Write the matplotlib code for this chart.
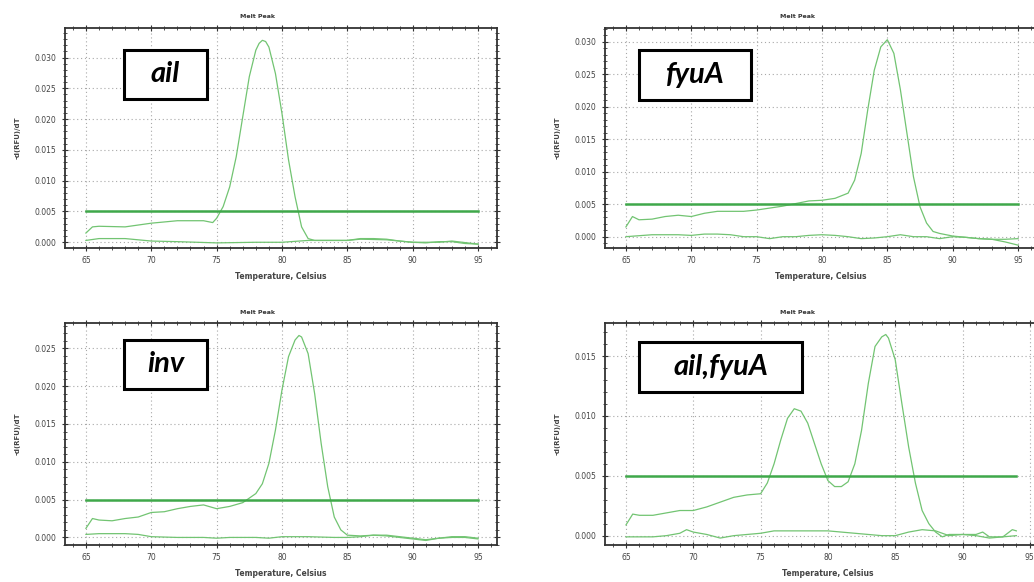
import matplotlib
matplotlib.use('Agg')
import matplotlib.pyplot as plt
from matplotlib.patches import Rectangle
from matplotlib.ticker import MultipleLocator

W, H = 1034, 582

# melt peak data
ail_t = [65, 65.5, 66, 68, 70, 72, 74, 74.7, 75, 75.5, 76, 76.5, 77, 77.5, 78, 78.25, 78.5, 78.75, 79, 79.5,
         80, 80.5, 81, 81.5, 82, 82.5, 84, 85, 86, 87, 88, 89, 90, 91, 92, 93, 94, 95]
ail_v = [0.0015, 0.0025, 0.0026, 0.0025, 0.0031, 0.0035, 0.0035, 0.0032, 0.0039, 0.0058, 0.0090, 0.0139, 0.0204,
         0.0269, 0.0312, 0.0323, 0.0328, 0.0326, 0.0317, 0.0274, 0.0209, 0.0134, 0.0074, 0.0025, 0.0006, 0.0003,
         0.0003, 0.0003, 0.0006, 0.0006, 0.0005, 0.0002, 0.0000, -0.0001, 0.0001, 0.0001, -0.0002, -0.0003]
ail_ntc_t = [65, 66, 68, 70, 72, 75, 78, 80, 82, 85, 86, 88, 90, 92, 93, 95]
ail_ntc_v = [0.0003, 0.0006, 0.0006, 0.0002, 0.0001, -0.0001, 0.0, 0.0, 0.0003, 0.0003, 0.0005, 0.0004, 0.0,
             0.0, 0.0002, -0.0003]

fyua_t = [65, 65.5, 66, 67, 68, 69, 70, 71, 72, 74, 75, 76, 77, 78, 79, 80, 81, 82, 82.5, 83, 83.5, 84, 84.5,
          85, 85.5, 86, 86.5, 87, 87.5, 88, 88.5, 89, 90, 91, 92, 93, 94, 95]
fyua_v = [0.0015, 0.0031, 0.0026, 0.0027, 0.0031, 0.0033, 0.0031, 0.0036, 0.0039, 0.0039, 0.0041, 0.0044,
          0.0047, 0.0051, 0.0055, 0.0056, 0.0059, 0.0067, 0.0087, 0.0128, 0.0195, 0.0256, 0.0292, 0.0303, 0.0282,
          0.0226, 0.0159, 0.0092, 0.0046, 0.0021, 0.0008, 0.0005, 0.0001, -0.0001, -0.0003, -0.0004, -0.0008,
          -0.0013]
fyua_ntc_t = [65, 67, 69, 70, 71, 72, 73, 74, 75, 76, 77, 78, 79, 80, 81, 82, 83, 84, 85, 86, 87, 88, 89, 90,
              91, 92, 93, 94, 95]
fyua_ntc_v = [0.0, 0.0003, 0.0003, 0.0002, 0.0004, 0.0004, 0.0003, 0.0, 0.0, -0.0003, 0.0, 0.0, 0.0002, 0.0003,
              0.0002, 0.0, -0.0003, -0.0002, 0.0, 0.0003, 0.0, 0.0, -0.0003, 0.0, -0.0001, -0.0003, -0.0004,
              -0.0004, -0.0003]

inv_t = [65, 65.5, 66, 67, 68, 69, 70, 71, 72, 73, 74, 75, 76, 77, 78, 78.5, 79, 79.5, 80, 80.5, 81, 81.3, 81.5,
         82, 82.5, 83, 83.5, 84, 84.5, 85, 86, 87, 88, 89, 90, 91, 92, 93, 94, 95]
inv_v = [0.0012, 0.0025, 0.0023, 0.0022, 0.0025, 0.0027, 0.0033, 0.0034, 0.0038, 0.0041, 0.0043, 0.0038, 0.0041,
         0.0046, 0.0058, 0.0071, 0.0098, 0.0142, 0.0195, 0.0239, 0.0261, 0.0267, 0.0265, 0.0243, 0.0190, 0.0124,
         0.0067, 0.0027, 0.0010, 0.0003, 0.0002, 0.0003, 0.0003, 0.0001, -0.0001, -0.0003, -0.0001, 0.0001,
         0.0001, -0.0001]
inv_ntc_t = [65, 66, 68, 69, 70, 72, 74, 75, 76, 78, 79, 80, 82, 84, 85, 86, 87, 88, 89, 90, 91, 92, 93, 94, 95]
inv_ntc_v = [0.0004, 0.0005, 0.0005, 0.0004, 0.0001, 0.0, 0.0, -0.0001, 0.0, 0.0, -0.0001, 0.0001, 0.0001, 0.0,
             0.0, 0.0001, 0.0003, 0.0002, 0.0, -0.0002, -0.0004, -0.0001, 0.0, 0.0, -0.0002]

mix_t = [65, 65.5, 66, 67, 68, 69, 70, 71, 72, 73, 74, 75, 75.5, 76, 76.5, 77, 77.5, 78, 78.5, 79, 79.5, 80, 80.5,
         81, 81.5, 82, 82.5, 83, 83.5, 84, 84.3, 84.5, 85, 85.5, 86, 86.5, 87, 87.5, 88, 88.5, 89, 90, 91, 91.5,
         92, 93, 94]
mix_v = [0.0009, 0.0018, 0.0017, 0.0017, 0.0019, 0.0021, 0.0021, 0.0024, 0.0028, 0.0032, 0.0034, 0.0035, 0.0044,
         0.0060, 0.0080, 0.0098, 0.0106, 0.0104, 0.0094, 0.0077, 0.0060, 0.0046, 0.0041, 0.0041, 0.0045, 0.0060,
         0.0088, 0.0127, 0.0158, 0.0166, 0.0168, 0.0165, 0.0147, 0.0110, 0.0074, 0.0044, 0.0021, 0.0010, 0.0003,
         -0.0001, 0.0001, 0.0001, 0.0001, 0.0003, -0.0001, -0.0001, 0.0]
mix_ntc_t = [65, 66, 67, 68, 69, 69.5, 70, 71, 72, 73, 74, 75, 76, 77, 78, 79, 80, 81, 82, 83, 84, 85, 86, 87, 88,
             89, 90, 91, 92, 93, 93.7, 94]
mix_ntc_v = [-0.0001, -0.0001, -0.0001, 0.0, 0.0002, 0.0005, 0.0003, 0.0001, -0.0002, 0.0, 0.0001, 0.0002, 0.0004,
             0.0004, 0.0004, 0.0004, 0.0004, 0.0003, 0.0002, 0.0001, 0.0, 0.0, 0.0003, 0.0005, 0.0004, 0.0, 0.0001,
             0.0, -0.0002, -0.0001, 0.0005, 0.0004]

threshold = 0.005
labels = ['ail', 'fyuA', 'inv', 'ail,fyuA']

# layout in pixels: axes (left, top, right, bottom), xlim, ylim, label box (x0, y0, x1, y1)
panels = [
    dict(t=ail_t, v=ail_v, nt=ail_ntc_t, nv=ail_ntc_v, thr=(65, 95), ax=(65, 28, 497, 248),
         xlim=(63.4, 96.45), ylim=(-0.00093, 0.0348), yt=0.005, box=(124, 50, 207, 99)),
    dict(t=fyua_t, v=fyua_v, nt=fyua_ntc_t, nv=fyua_ntc_v, thr=(65, 95), ax=(605, 28, 1037, 248),
         xlim=(63.4, 96.45), ylim=(-0.00174, 0.0321), yt=0.005, box=(639, 50, 751, 100)),
    dict(t=inv_t, v=inv_v, nt=inv_ntc_t, nv=inv_ntc_v, thr=(65, 95), ax=(65, 323, 497, 545),
         xlim=(63.4, 96.45), ylim=(-0.001, 0.02835), yt=0.005, box=(124, 340, 207, 389)),
    dict(t=mix_t, v=mix_v, nt=mix_ntc_t, nv=mix_ntc_v, thr=(65, 94), ax=(605, 323, 1050, 545),
         xlim=(63.44, 96.5), ylim=(-0.00078, 0.01776), yt=0.005, box=(639, 342, 802, 392)),
]

fig = plt.figure(figsize=(W / 100, H / 100), dpi=100)
fig.patch.set_facecolor('white')

curve_color = '#72c472'
thr_color = '#3fa84a'
text_color = '#444444'

for p, name in zip(panels, labels):
    l, t, r, b = p['ax']
    ax = fig.add_axes([l / W, 1 - b / H, (r - l) / W, (b - t) / H])
    ax.plot(p['t'], p['v'], color=curve_color, lw=0.9)
    ax.plot(p['nt'], p['nv'], color=curve_color, lw=0.9)
    ax.plot(list(p['thr']), [threshold, threshold], color=thr_color, lw=1.8)

    ax.set_xlim(*p['xlim'])
    ax.set_ylim(*p['ylim'])
    ax.xaxis.set_major_locator(MultipleLocator(5))
    ax.xaxis.set_minor_locator(MultipleLocator(1))
    ax.yaxis.set_major_locator(MultipleLocator(p['yt']))
    ax.yaxis.set_minor_locator(MultipleLocator(0.001))
    ax.yaxis.set_major_formatter(plt.FormatStrFormatter('%.3f'))
    ax.grid(True, which='major', linestyle=(0, (1, 2.5)), color='#a8a8a8', linewidth=0.8)
    ax.tick_params(which='both', direction='inout', top=True, right=True, color='#333333',
                   labelsize=5.5, labelcolor=text_color)
    ax.tick_params(which='major', length=4, width=0.8, pad=4)
    ax.tick_params(which='minor', length=2.5, width=0.6)
    for s in ax.spines.values():
        s.set_color('#333333')
        s.set_linewidth(1.3)

    ax.set_xlabel('Temperature, Celsius', fontsize=5.5, fontweight='bold', color=text_color, labelpad=5)
    ax.set_ylabel('-d(RFU)/dT', fontsize=5, fontweight='bold', color=text_color, labelpad=10)
    ax.text((257 + (540 if l > 500 else 0) - l) / (r - l), 1 + 11 / (b - t), 'Melt Peak',
            transform=ax.transAxes, ha='center', va='center', fontsize=4.5, fontweight='bold', color='#333333')

    bx0, by0, bx1, by1 = p['box']
    fig.patches.append(Rectangle((bx0 / W, 1 - by1 / H), (bx1 - bx0) / W, (by1 - by0) / H,
                                 transform=fig.transFigure, facecolor='white', edgecolor='black',
                                 linewidth=2.2, zorder=5))
    fig.text((bx0 + bx1) / 2 / W, 1 - (by0 + by1) / 2 / H, name, ha='center', va='center',
             fontsize=21, fontweight='bold', style='italic', family='Lato', zorder=6)

fig.savefig('out.png', dpi=100)
